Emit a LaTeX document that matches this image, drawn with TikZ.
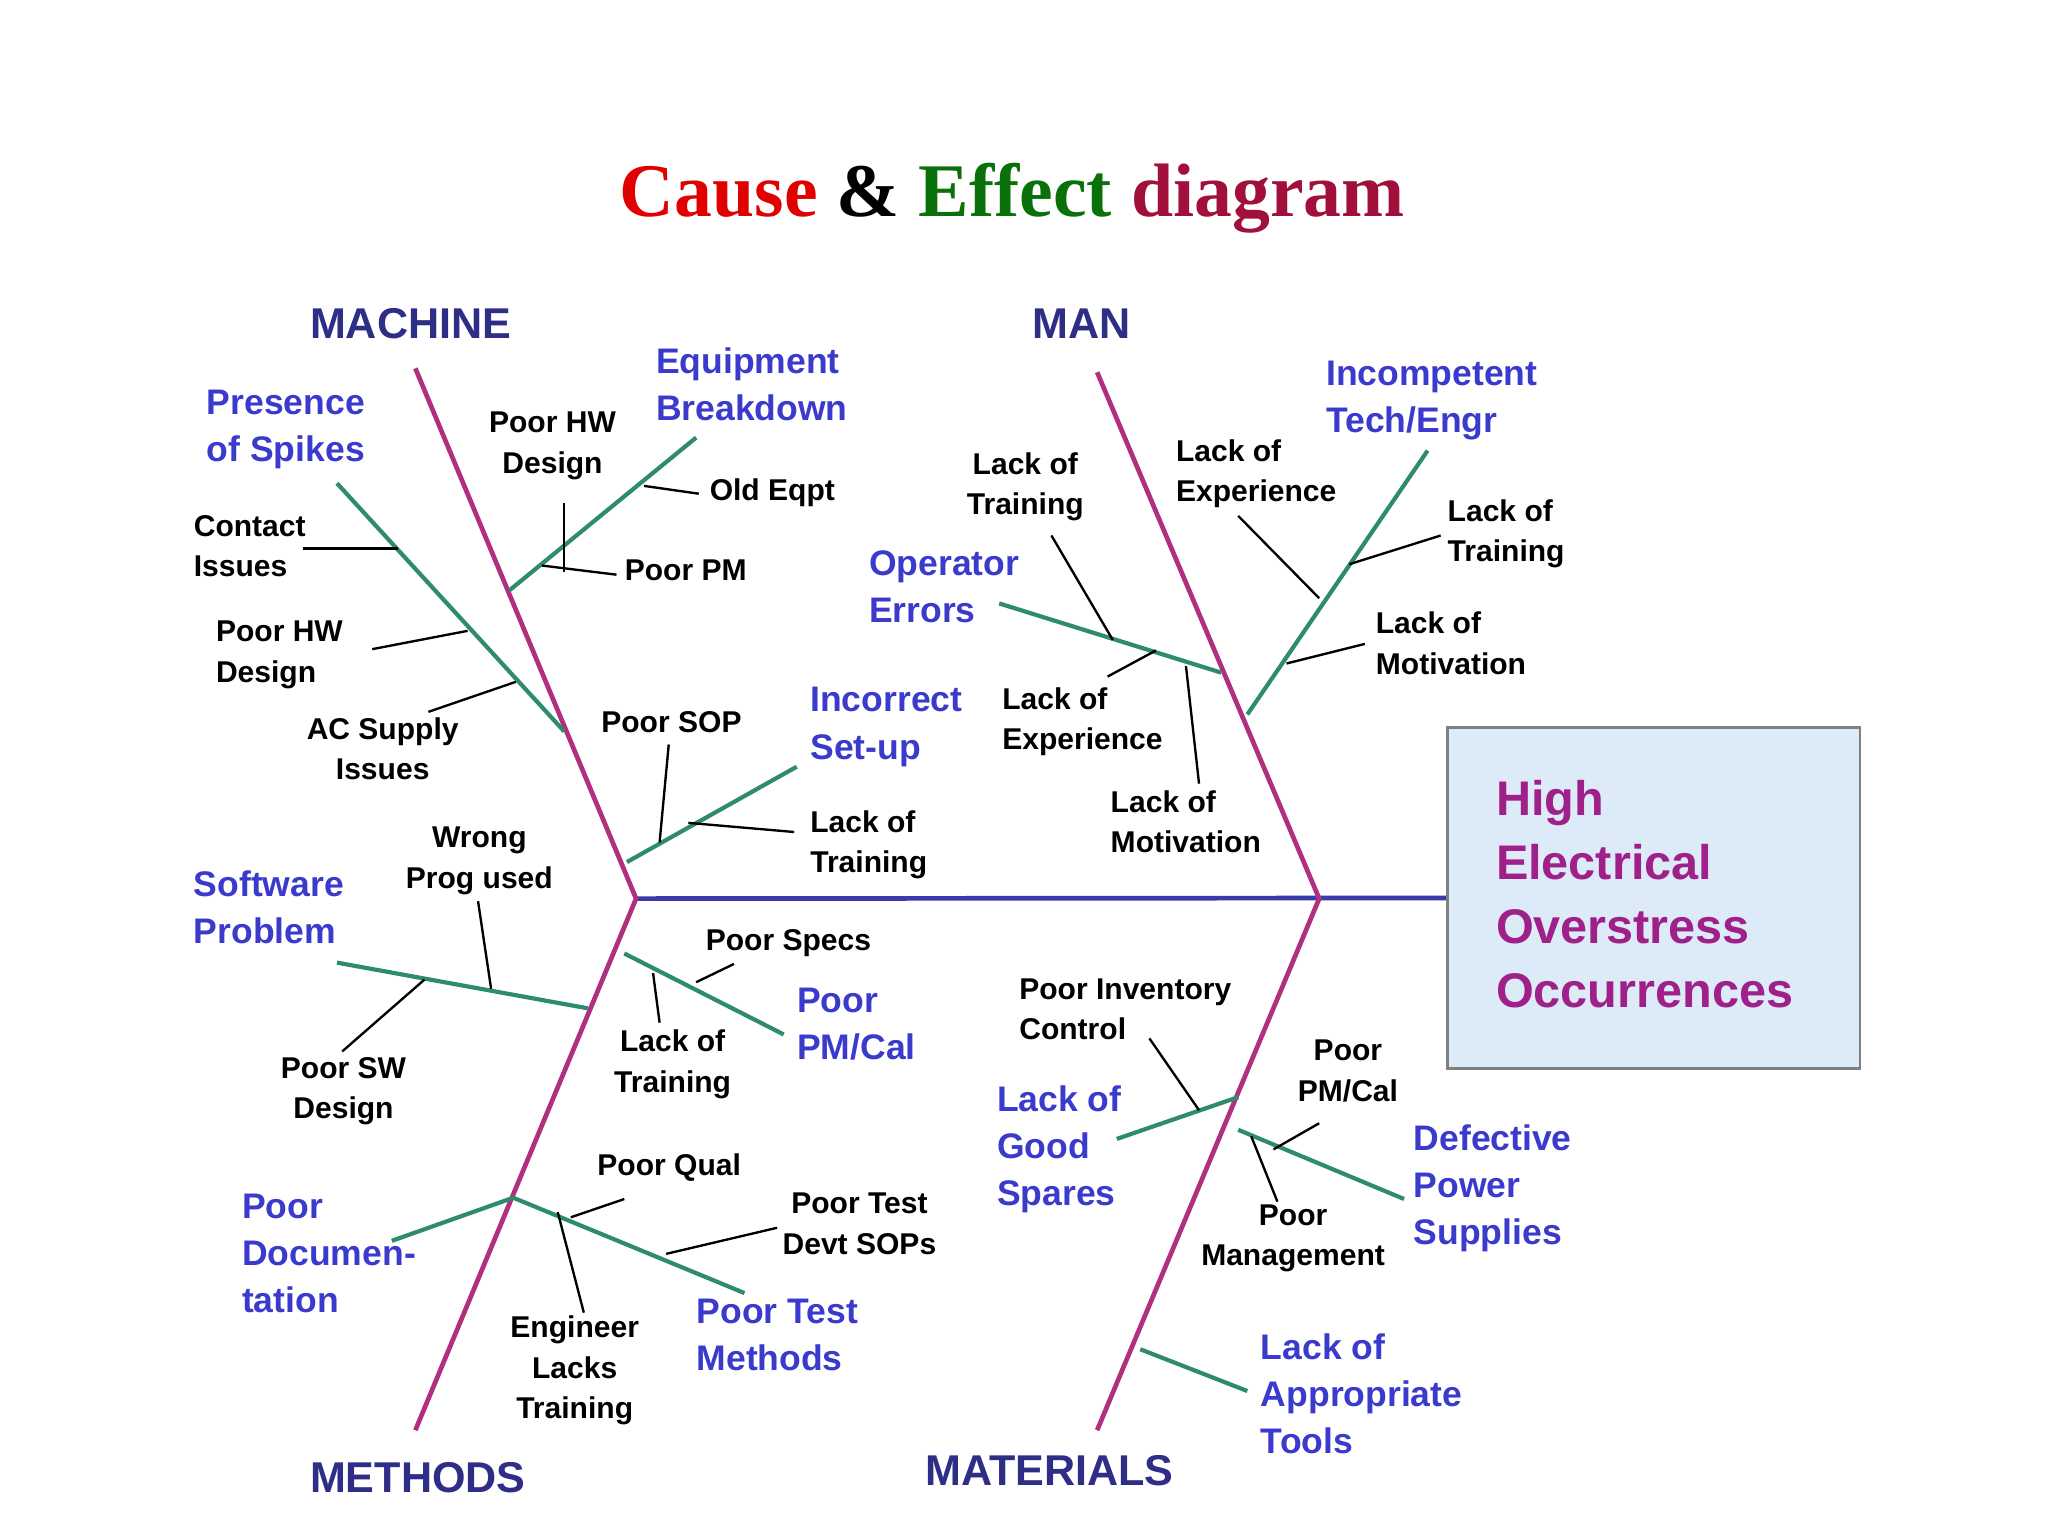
\documentclass[tikz,border=0pt]{standalone}
\usepackage{fontspec}
\setmainfont{Liberation Sans}
\newfontfamily\titlefont{Liberation Serif}
\definecolor{bone}{HTML}{B0307F}
\definecolor{spine}{HTML}{3A3AA8}
\definecolor{sub}{HTML}{2E8B6E}
\definecolor{bluet}{HTML}{3A3ACC}
\definecolor{boxfill}{HTML}{DCEBF7}
\definecolor{effp}{HTML}{A0208A}
\definecolor{tred}{HTML}{E00000}
\definecolor{tgreen}{HTML}{0A700A}
\definecolor{tdred}{HTML}{A0103A}
\begin{document}
\begin{tikzpicture}[x=0.5pt,y=-0.5pt,
 bonel/.style={bone,line width=1.8pt},
 subl/.style={sub,line width=1.6pt},
 tick/.style={black,line width=0.9pt},
 blu/.style={inner sep=0,anchor=north west,align=left,text=bluet,font=\fontsize{13.6}{18}\selectfont\bfseries},
 hdr/.style={inner sep=0,anchor=north west,text=spine!80!black,font=\fontsize{16.5}{18}\selectfont\bfseries},
 blk/.style={inner sep=0,anchor=north west,align=left,font=\fontsize{11.5}{15.5}\selectfont\bfseries},
 blkc/.style={blk,anchor=north,align=center}]
\useasboundingbox (0,0) rectangle (1568,1176);
\node[font=\titlefont\fontsize{29}{32}\selectfont\bfseries] (title) at (775,152)
 {\textcolor{tred}{Cause} \& \textcolor{tgreen}{Effect} \textcolor{tdred}{diagram}};
% coordinates
\coordinate (h1) at (487,688); \coordinate (h2) at (1010,688);
\coordinate (mc) at (318,282); \coordinate (mt) at (318,1095);
\coordinate (mn) at (840,285); \coordinate (ma) at (840,1095);
\node[draw=gray,fill=boxfill,line width=1pt,minimum width=158pt,minimum height=130.5pt,anchor=north west,inner sep=0] (box) at (1107,556) {};
\node[inner sep=0,anchor=north west,align=left,text=effp,font=\fontsize{18.6}{24.5}\selectfont\bfseries] (efft) at (1145,597) {High\\Electrical\\Overstress\\Occurrences};
\draw[spine,line width=1.8pt] (h1) -- (box.west);
\draw[bonel] (mc) -- (h1) -- (mt);
\draw[bonel] (mn) -- (h2) -- (ma);
% green sub-bones
\draw[subl] (258,370) -- (432,560);
\draw[subl] (533,335) -- (390,452);
\draw[subl] (610,587) -- (480,660);
\draw[subl] (765,462) -- (935,515);
\draw[subl] (1093,345) -- (955,547);
\draw[subl] (258,737) -- (450,772);
\draw[subl] (600,792) -- (478,730);
\draw[subl] (300,950) -- (393,917);
\draw[subl] (570,990) -- (393,917);
\draw[subl] (855,872) -- (948,840);
\draw[subl] (1075,918) -- (948,865);
\draw[subl] (955,1065) -- (873,1033);
% ticks
\draw[tick] (232,420) -- (305,420);
\draw[tick] (285,497) -- (358,483);
\draw[tick] (328,545) -- (395,522);
\draw[tick] (432,385) -- (432,438);
\draw[tick] (493,372) -- (535,378);
\draw[tick] (415,433) -- (472,440);
\draw[tick] (512,570) -- (505,645);
\draw[tick] (527,630) -- (608,637);
\draw[tick] (366,690) -- (376,757);
\draw[tick] (262,805) -- (325,750);
\draw[tick] (533,752) -- (562,738);
\draw[tick] (500,745) -- (505,783);
\draw[tick] (437,932) -- (478,918);
\draw[tick] (510,960) -- (595,940);
\draw[tick] (427,928) -- (447,1005);
\draw[tick] (805,410) -- (852,490);
\draw[tick] (848,518) -- (885,498);
\draw[tick] (908,510) -- (918,600);
\draw[tick] (948,395) -- (1010,458);
\draw[tick] (1033,432) -- (1103,410);
\draw[tick] (985,508) -- (1045,493);
\draw[tick] (880,795) -- (918,850);
\draw[tick] (975,880) -- (1010,860);
\draw[tick] (958,870) -- (978,920);
% headers
\node[hdr] (hmc) at (237,236) {MACHINE};
\node[hdr] (hmn) at (790,236) {MAN};
\node[hdr] (hmt) at (237,1119) {METHODS};
\node[hdr] (hma) at (708,1114) {MATERIALS};
% blue labels
\node[blu] (b1) at (158,298) {Presence\\of Spikes};
\node[blu] (b2) at (502,266) {Equipment\\Breakdown};
\node[blu] (b3) at (1015,276) {Incompetent\\Tech/Engr};
\node[blu] (b4) at (665,421) {Operator\\Errors};
\node[blu] (b5) at (620,526) {Incorrect\\Set-up};
\node[blu] (b6) at (148,666) {Software\\Problem};
\node[blu] (b7) at (610,756) {Poor\\PM/Cal};
\node[blu] (b8) at (185,914) {Poor\\Documen-\\tation};
\node[blu] (b9) at (533,994) {Poor Test\\Methods};
\node[blu] (b10) at (763,831) {Lack of\\Good\\Spares};
\node[blu] (b11) at (1082,861) {Defective\\Power\\Supplies};
\node[blu] (b12) at (965,1021) {Lack of\\Appropriate\\Tools};
% black labels
\node[blkc] (k1) at (423,315) {Poor HW\\Design};
\node[blk] (k2) at (543,366) {Old Eqpt};
\node[blk] (k3) at (478,428) {Poor PM};
\node[blk] (k4) at (148,394) {Contact\\Issues};
\node[blk] (k5) at (165,475) {Poor HW\\Design};
\node[blkc] (k6) at (293,549) {AC Supply\\Issues};
\node[blk] (k7) at (460,544) {Poor SOP};
\node[blk] (k8) at (620,620) {Lack of\\Training};
\node[blkc] (k9) at (367,633) {Wrong\\Prog used};
\node[blk] (k10) at (540,711) {Poor Specs};
\node[blkc] (k11) at (515,788) {Lack of\\Training};
\node[blkc] (k12) at (263,809) {Poor SW\\Design};
\node[blk] (k13) at (457,883) {Poor Qual};
\node[blkc] (k14) at (658,913) {Poor Test\\Devt SOPs};
\node[blkc] (k15) at (440,1007) {Engineer\\Lacks\\Training};
\node[blkc] (k16) at (785,346) {Lack of\\Training};
\node[blk] (k17) at (900,336) {Lack of\\Experience};
\node[blk] (k18) at (1108,382) {Lack of\\Training};
\node[blk] (k19) at (1053,468) {Lack of\\Motivation};
\node[blk] (k20) at (767,526) {Lack of\\Experience};
\node[blk] (k21) at (850,605) {Lack of\\Motivation};
\node[blk] (k22) at (780,749) {Poor Inventory\\Control};
\node[blkc] (k23) at (1032,796) {Poor\\PM/Cal};
\node[blkc] (k24) at (990,922) {Poor\\Management};
\end{tikzpicture}
\end{document}
